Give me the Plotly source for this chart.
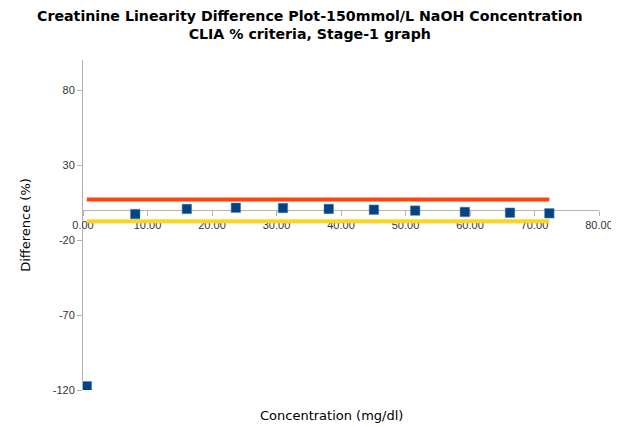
import plotly.graph_objects as go

conc = [0.6, 8.1, 16.1, 23.7, 31.0, 38.1, 45.1, 51.5, 59.2, 66.2, 72.3]
diff = [-117.5, -2.7, 0.7, 1.5, 1.3, 0.7, 0.2, -0.4, -1.3, -1.8, -2.2]
limit_x = [0.6, 72.3]
upper_limit = [7.0, 7.0]
lower_limit = [-7.5, -7.5]

x_ticks = [0, 10, 20, 30, 40, 50, 60, 70, 80]
y_ticks = [-120, -70, -20, 30, 80]
y_labels = [str(v) for v in y_ticks]
y_min, y_max = -120, 100

# the page body adds an 8px offset; size the figure to fill the rest
W, H = 611, 419
PLOT_H = 330
PLOT_W = 516

fig = go.Figure()
fig.add_trace(go.Scatter(x=limit_x, y=upper_limit, mode="lines",
                         line=dict(color="#ff420e", width=4), showlegend=False))
fig.add_trace(go.Scatter(x=limit_x, y=lower_limit, mode="lines",
                         line=dict(color="#ffd320", width=4), showlegend=False))
fig.add_trace(go.Scatter(x=conc, y=diff, mode="markers",
                         marker=dict(symbol="square", size=9.5, color="#004586",
                                     line=dict(color="#5a7fa8", width=0.5)),
                         showlegend=False))

fig.update_layout(
    width=W, height=H,
    margin=dict(l=75, r=20, t=52, b=37),
    paper_bgcolor="white", plot_bgcolor="white",
    font=dict(family="Liberation Sans, Arial, sans-serif", size=11, color="#333333"),
    xaxis=dict(
        range=[0, 80], tickvals=x_ticks, tickformat=".2f",
        showgrid=False, zeroline=False, automargin=False, layer="below traces",
        showline=True, linecolor="#b3b3b3", linewidth=1,
        ticks="outside", ticklen=5, tickcolor="#b3b3b3",
        anchor="free", position=(0 - y_min) / (y_max - y_min),
        tickfont=dict(size=11, color="#333333"),
    ),
    yaxis=dict(
        range=[y_min, y_max], tickvals=y_ticks, ticktext=y_labels,
        showgrid=False, zeroline=False, automargin=False, layer="below traces",
        showline=True, linecolor="#b3b3b3", linewidth=1,
        ticks="outside", ticklen=5, tickcolor="#b3b3b3",
        tickfont=dict(size=11, color="#333333"),
        title=dict(text="Difference (%)", standoff=19,
                   font=dict(family="DejaVu Sans, sans-serif", size=13, color="#000000")),
    ),
    annotations=[
        dict(text="<b>Creatinine Linearity Difference Plot-150mmol/L NaOH Concentration<br>CLIA % criteria, Stage-1 graph</b>",
             x=(310 - 83) / PLOT_W, xref="paper", xanchor="center",
             y=(390 - 6) / PLOT_H, yref="paper", yanchor="top", showarrow=False,
             font=dict(family="DejaVu Sans, sans-serif", size=14.2, color="#000000")),
        dict(text="Concentration (mg/dl)", x=(331 - 83) / PLOT_W, xref="paper",
             y=-25 / PLOT_H, yref="paper", yanchor="middle", showarrow=False,
             font=dict(family="DejaVu Sans, sans-serif", size=13, color="#000000")),
    ],
)

fig.write_html("out.html")
